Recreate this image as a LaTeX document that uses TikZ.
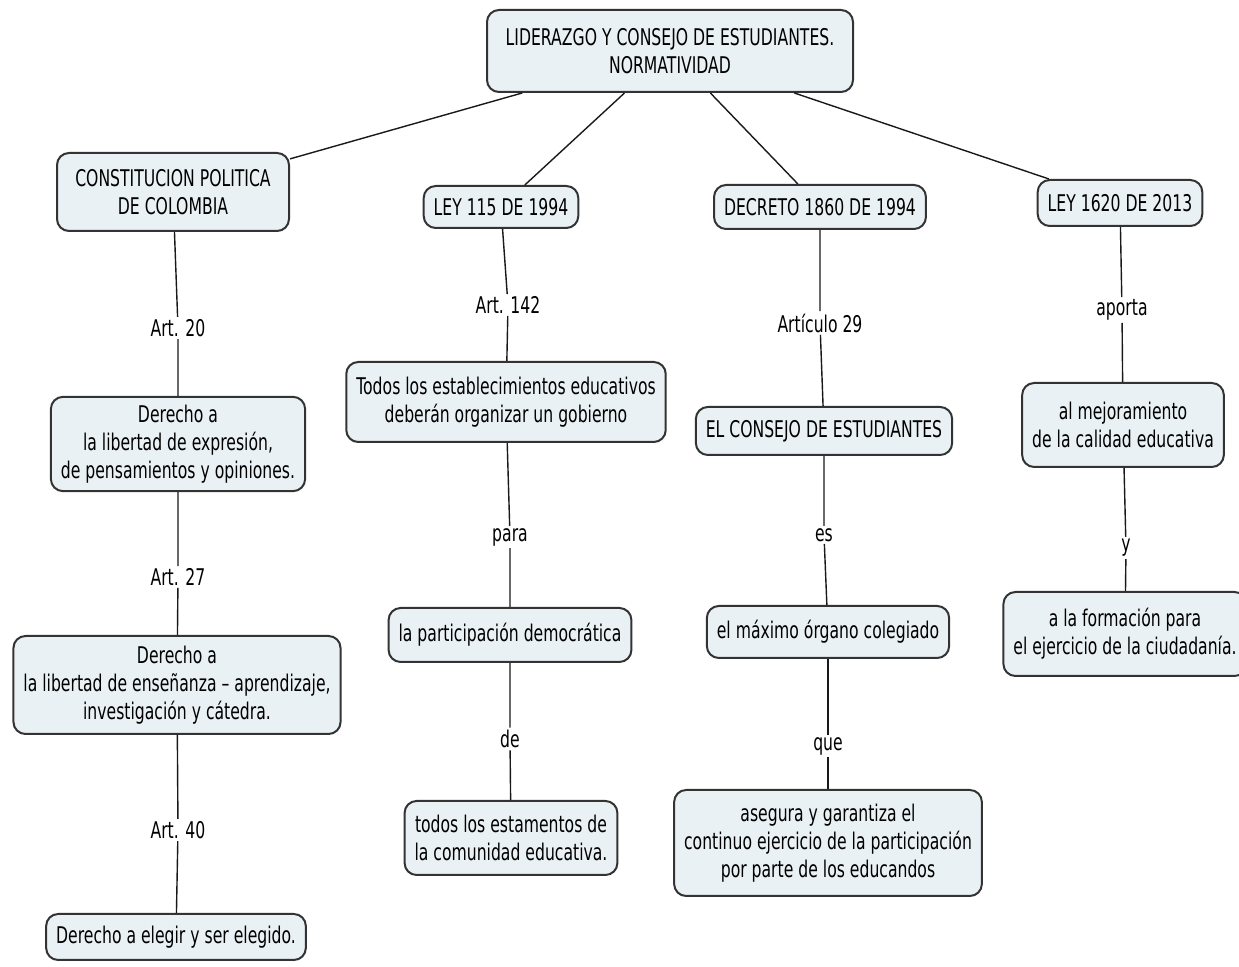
\documentclass[tikz,border=0pt]{standalone}
\usepackage{fontspec}
\setmainfont[FakeStretch=0.68]{DejaVu Sans}
\usepackage{xcolor}
\usepackage{tikz}
\usetikzlibrary{positioning, shapes, calc}
\definecolor{boxfill}{HTML}{EAF1F5}
\definecolor{boxline}{HTML}{333333}

\begin{document}
\begin{tikzpicture}[x=0.5pt, y=-0.5pt, every node/.style={font=\fontsize{11.5}{14}\selectfont}]

	\tikzstyle{concept}=[rectangle, rounded corners=6pt, draw=boxline, line width=1pt, fill=boxfill, inner xsep=5pt, inner ysep=4pt, align=center, text=black]
	\tikzstyle{link}=[fill=white, inner sep=1pt, text=black]
	\tikzstyle{conn}=[line width=0.7pt, black!90]

	\useasboundingbox (0,0) rectangle (1239,967);

	\node (top) at (670,51) [concept, minimum height=41pt, minimum width=183pt] {LIDERAZGO Y CONSEJO DE ESTUDIANTES.\\NORMATIVIDAD};

	\node (cpc) at (173,192) [concept, minimum height=39pt, minimum width=116pt] {CONSTITUCION POLITICA\\DE COLOMBIA};
	\node (ley115) at (501,207) [concept, minimum height=21pt] {LEY 115 DE 1994};
	\node (dec1860) at (820,207) [concept, minimum height=22pt] {DECRETO 1860 DE 1994};
	\node (ley1620) at (1120,203) [concept, minimum height=23pt] {LEY 1620 DE 2013};

	\draw [conn] (top) -- (cpc);
	\draw [conn] (top) -- (ley115);
	\draw [conn] (top) -- (dec1860);
	\draw [conn] (top) -- (ley1620);

	% constitucion
	\node (art20) at (178,328) [link] {Art. 20};
	\node (expr) at (178,444) [concept, minimum height=42pt] {Derecho a\\la libertad de expresión,\\de pensamientos y opiniones.};
	\node (art27) at (178,577) [link] {Art. 27};
	\node (ensen) at (177,685) [concept, minimum height=49pt] {Derecho a\\la libertad de enseñanza – aprendizaje,\\investigación y cátedra.};
	\node (art40) at (178,830) [link] {Art. 40};
	\node (elegir) at (176,937) [concept, minimum height=23pt] {Derecho a elegir y ser elegido.};

	\draw [conn] (cpc) -- (art20) -- (expr);
	\draw [conn] (expr) -- (art27) -- (ensen);
	\draw [conn] (ensen) -- (art40) -- (elegir);

	% ley 115
	\node (art142) at (508,305) [link] {Art. 142};
	\node (gobierno) at (506,402) [concept, minimum height=40pt] {Todos los establecimientos educativos\\deberán organizar un gobierno};
	\node (para) at (510,537) [link] {para};
	\node (partic) at (510,635) [concept, minimum height=27pt] {la participación democrática};
	\node (de) at (510,739) [link] {de};
	\node (estam) at (511,838) [concept, minimum height=37pt] {todos los estamentos de\\la comunidad educativa.};

	\draw [conn] (ley115) -- (art142) -- (gobierno);
	\draw [conn] (gobierno) -- (para) -- (partic);
	\draw [conn] (partic) -- (de) -- (estam);

	% decreto 1860
	\node (art29) at (820,323) [link] {Artículo 29};
	\node (consejo) at (824,431) [concept, minimum height=24pt] {EL CONSEJO DE ESTUDIANTES};
	\node (es) at (824,535) [link] {es};
	\node (organo) at (828,632) [concept, minimum height=26pt] {el máximo órgano colegiado};
	\node (que) at (828,746) [link] {que};
	\node (asegura) at (828,843) [concept, minimum height=53pt] {asegura y garantiza el\\continuo ejercicio de la participación\\por parte de los educandos};

	\draw [conn] (dec1860) -- (art29) -- (consejo);
	\draw [conn] (consejo) -- (es) -- (organo);
	\draw [conn] (organo) -- (que) -- (asegura);

	% ley 1620
	\node (aporta) at (1122,310) [link] {aporta};
	\node (mejora) at (1123,425) [concept, minimum height=42pt] {al mejoramiento\\de la calidad educativa};
	\node (y) at (1126,548) [link] {y};
	\node (formac) at (1125,634) [concept, minimum height=42pt] {a la formación para\\el ejercicio de la ciudadanía.};

	\draw [conn] (ley1620) -- (aporta) -- (mejora);
	\draw [conn] (mejora) -- (y) -- (formac);
\end{tikzpicture}
\end{document}
